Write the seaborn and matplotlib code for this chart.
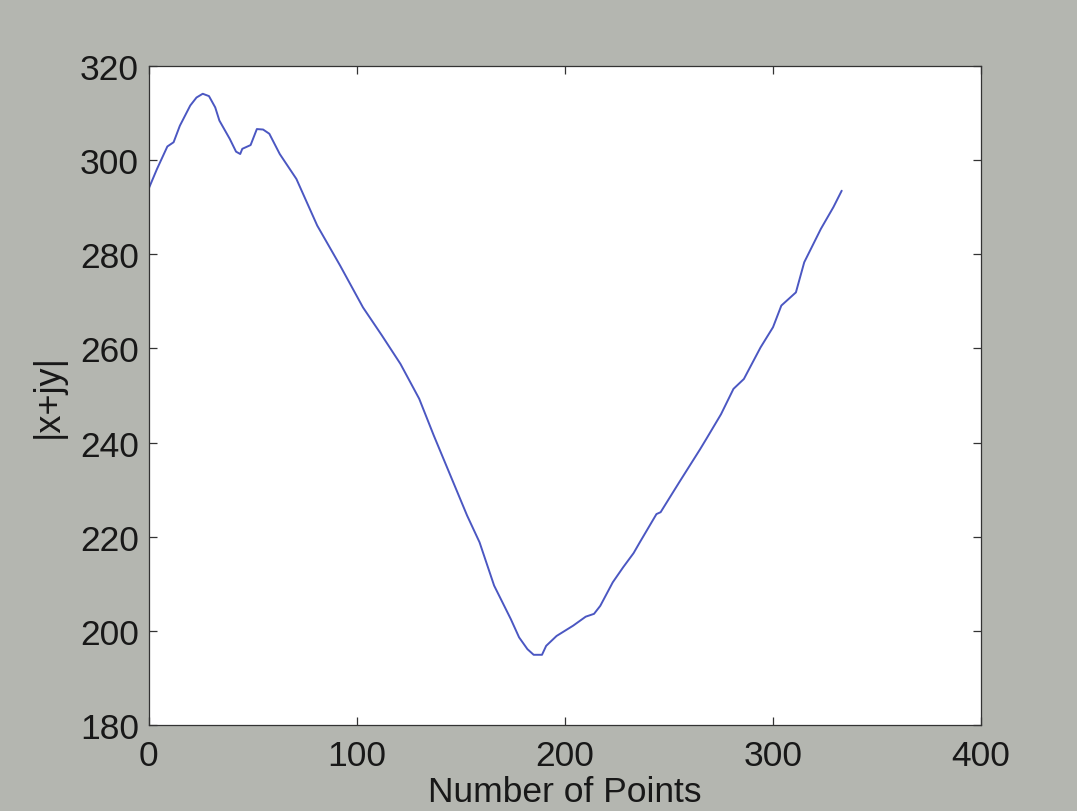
import numpy as np
import pandas as pd
import matplotlib
matplotlib.use('Agg')
import matplotlib.pyplot as plt
import seaborn as sns

# values
pts = [0, 4, 9, 12, 15, 20, 23, 26, 29, 32,
       34, 39, 42, 44, 45, 49, 52, 55, 58, 63,
       71, 81, 92, 103, 112, 121, 130, 137, 145, 153,
       159, 166, 174, 178, 182, 185, 189, 191, 196, 204,
       210, 214, 217, 223, 228, 233, 236, 244, 246, 255,
       265, 268, 275, 281, 286, 294, 300, 304, 311, 315,
       323, 329, 333]
mag = [293.9, 298.1, 302.9, 303.8, 307.3, 311.6, 313.3, 314.1, 313.6, 311.2,
       308.4, 304.5, 301.8, 301.3, 302.4, 303.2, 306.6, 306.5, 305.6, 301.3,
       296.0, 286.1, 277.6, 268.7, 262.8, 256.7, 249.3, 241.5, 233.0, 224.5,
       218.8, 209.6, 202.5, 198.6, 196.1, 194.9, 194.9, 196.8, 198.9, 201.1,
       203.0, 203.6, 205.3, 210.3, 213.5, 216.5, 218.8, 224.8, 225.2, 231.6,
       238.6, 240.8, 246.0, 251.4, 253.5, 260.2, 264.5, 269.1, 271.9, 278.3,
       285.4, 290.0, 293.5]
xticks = [0, 100, 200, 300, 400]
yticks = [180, 200, 220, 240, 260, 280, 300, 320]

sns.set_style('ticks')
plt.rcParams['font.family'] = ['Liberation Sans', 'DejaVu Sans']

df = pd.DataFrame({'n': pts, 'r': mag})

fig = plt.figure(figsize=(10.77, 8.12), dpi=100, facecolor='#b4b6b0')
ax = fig.add_axes([0.138, 0.106, 0.773, 0.8115])
ax.set_facecolor('white')

sns.lineplot(data=df, x='n', y='r', ax=ax, color='#4b57c2', lw=1.4, sort=False)

ax.set_xlim(0, 400)
ax.set_ylim(180, 320)
ax.set_xticks(xticks)
ax.set_yticks(yticks)
ax.tick_params(direction='in', length=6, width=0.9, color='#333333',
               labelsize=25.5, labelcolor='#181818',
               top=True, right=True)
ax.tick_params(axis='y', pad=7)
ax.tick_params(axis='x', pad=10)
for s in ax.spines.values():
    s.set_visible(True)
    s.set_color('#333333')
    s.set_linewidth(0.9)

ax.set_xlabel('Number of Points', fontsize=25.5, color='#181818', labelpad=2)
ax.set_ylabel('|x+jy|', fontsize=26, color='#181818', labelpad=10)

fig.savefig('out.png', dpi=100, facecolor=fig.get_facecolor())
